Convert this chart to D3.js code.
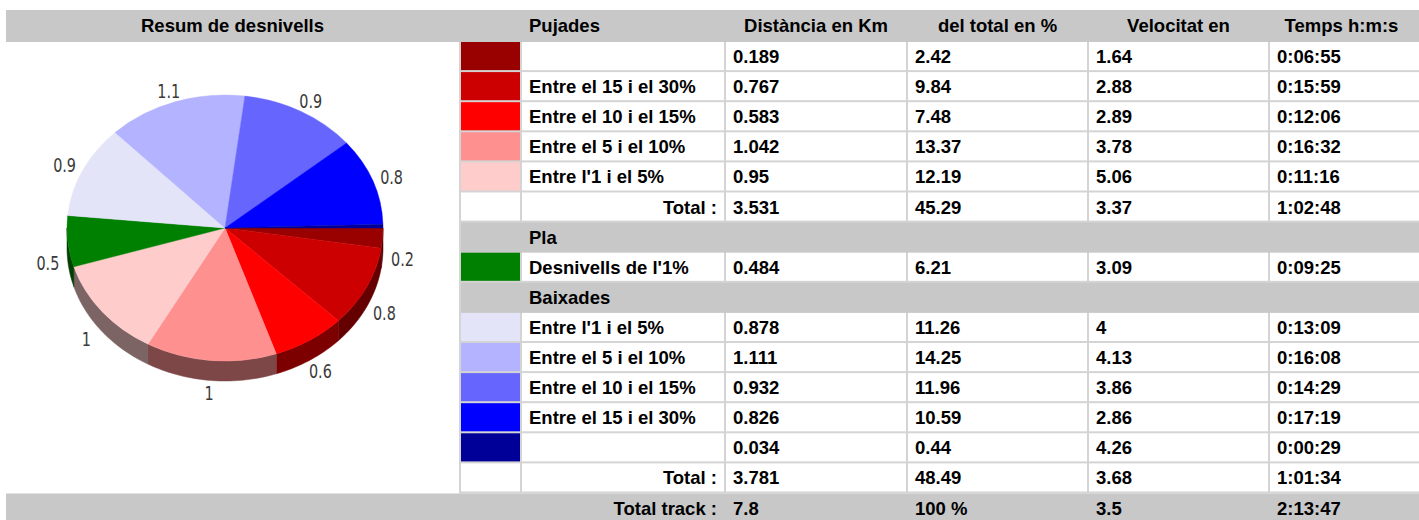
<!DOCTYPE html>
<html>
<head>
<meta charset="utf-8">
<script src="https://cdn.jsdelivr.net/npm/d3@7"></script>
<style>
  body { margin: 0; background: #fff; }
  svg { display: block; }
</style>
</head>
<body>
<div id="chart"></div>
<script>
// Pujades
var upLabels = ["", "Entre el 15 i el 30%", "Entre el 10 i el 15%", "Entre el 5 i el 10%", "Entre l'1 i el 5%"];
var upColors = ["#990000", "#cc0000", "#ff0000", "#ff9090", "#ffcccc"];
var upDist = [0.189, 0.767, 0.583, 1.042, 0.95];
var upPct = [2.42, 9.84, 7.48, 13.37, 12.19];
var upSpeed = [1.64, 2.88, 2.89, 3.78, 5.06];
var upTime = ["0:06:55", "0:15:59", "0:12:06", "0:16:32", "0:11:16"];
var upTotal = [3.531, 45.29, 3.37, "1:02:48"];

// Pla
var flatLabels = ["Desnivells de l'1%"];
var flatColors = ["#008000"];
var flatDist = [0.484];
var flatPct = [6.21];
var flatSpeed = [3.09];
var flatTime = ["0:09:25"];

// Baixades
var downLabels = ["Entre l'1 i el 5%", "Entre el 5 i el 10%", "Entre el 10 i el 15%", "Entre el 15 i el 30%", ""];
var downColors = ["#e4e4f8", "#b3b3ff", "#6666ff", "#0000ff", "#000099"];
var downDist = [0.878, 1.111, 0.932, 0.826, 0.034];
var downPct = [11.26, 14.25, 11.96, 10.59, 0.44];
var downSpeed = [4, 4.13, 3.86, 2.86, 4.26];
var downTime = ["0:13:09", "0:16:08", "0:14:29", "0:17:19", "0:00:29"];
var downTotal = [3.781, 48.49, 3.68, "1:01:34"];

var trackTotal = [7.8, "100 %", 3.5, "2:13:47"];
var headers = ["Pujades", "Distància en Km", "del total en %", "Velocitat en", "Temps h:m:s"];

var width = 1419, height = 520;
var gray = "#c8c8c8", gap = "#d4d4d4";
var cols = [[461, 520], [522, 724], [726, 906], [908, 1087], [1089, 1268], [1270, 1413]];

var svg = d3.select("#chart").append("svg")
    .attr("width", width)
    .attr("height", height)
    .style("font-family", "'Liberation Sans', Arial, sans-serif")
    .style("font-weight", "bold")
    .style("font-size", "18.5px");

// build table rows
var rows = [];
function addGroup(labels, colors, dist, pct, speed, time) {
  labels.forEach(function(l, i) {
    rows.push({kind: "row", label: l, color: colors[i], cells: [dist[i], pct[i], speed[i], time[i]]});
  });
}
addGroup(upLabels, upColors, upDist, upPct, upSpeed, upTime);
rows.push({kind: "total", label: "Total :", cells: upTotal});
rows.push({kind: "section", label: "Pla"});
addGroup(flatLabels, flatColors, flatDist, flatPct, flatSpeed, flatTime);
rows.push({kind: "section", label: "Baixades"});
addGroup(downLabels, downColors, downDist, downPct, downSpeed, downTime);
rows.push({kind: "total", label: "Total :", cells: downTotal});
rows.push({kind: "grand", label: "Total track :", cells: trackTotal});

var y = d3.scaleBand()
    .domain(d3.range(rows.length))
    .range([42, 42 + rows.length * 30.1]);

// header
svg.append("rect").attr("x", 6).attr("y", 10).attr("width", width - 6).attr("height", 32).attr("fill", gray);
svg.append("text").attr("x", (6 + 459) / 2).attr("y", 32).attr("text-anchor", "middle").text("Resum de desnivells");
svg.append("text").attr("x", cols[1][0] + 7).attr("y", 32).text(headers[0]);
headers.slice(1).forEach(function(h, i) {
  var c = cols[i + 2];
  svg.append("text").attr("x", (c[0] + c[1]) / 2).attr("y", 32).attr("text-anchor", "middle").text(h);
});

// table body background (cell spacing)
svg.append("rect").attr("x", 459).attr("y", 42)
    .attr("width", width - 459).attr("height", y(rows.length - 1) - 42)
    .attr("fill", gap);

var row = svg.selectAll("g.row")
    .data(rows)
    .enter().append("g")
    .attr("class", "row")
    .attr("transform", function(d, i) { return "translate(0," + y(i) + ")"; });

row.each(function(d) {
  var g = d3.select(this);
  var h = y.bandwidth();
  if (d.kind === "section") {
    g.append("rect").attr("x", 461).attr("y", 0).attr("width", width - 461).attr("height", h).attr("fill", gray);
    g.append("text").attr("x", cols[1][0] + 7).attr("y", 21).text(d.label);
    return;
  }
  if (d.kind === "grand") {
    g.append("rect").attr("x", 6).attr("y", 0).attr("width", width - 6).attr("height", h + 5).attr("fill", gray);
  } else {
    cols.forEach(function(c, j) {
      g.append("rect")
          .attr("x", c[0]).attr("y", 0)
          .attr("width", (j === cols.length - 1 ? width : c[1]) - c[0])
          .attr("height", h - 2)
          .attr("fill", j === 0 && d.kind === "row" ? d.color : "#fff");
    });
  }
  if (d.kind === "row") {
    g.append("text").attr("x", cols[1][0] + 7).attr("y", 21).text(d.label);
  } else {
    g.append("text").attr("x", cols[1][1] - 7).attr("y", 21).attr("text-anchor", "end").text(d.label);
  }
  d.cells.forEach(function(v, j) {
    g.append("text").attr("x", cols[j + 2][0] + 7).attr("y", 21).text(String(v));
  });
});

// 3D pie
var pieValues = upDist.concat(flatDist, downDist);
var pieColors = upColors.concat(flatColors, downColors);
var cx = 225, cy = 228, rx = 158, ry = 133, depth = 20;

var pie = d3.pie().sort(null)
    .startAngle(Math.PI / 2)
    .endAngle(Math.PI / 2 + 2 * Math.PI);
var arcs = pie(pieValues);

var pieG = svg.append("g").attr("transform", "translate(" + cx + "," + cy + ")");

// side walls for the front half
var line = d3.line();
arcs.forEach(function(a, i) {
  var s = Math.max(a.startAngle, Math.PI / 2), e = Math.min(a.endAngle, 3 * Math.PI / 2);
  if (s >= e) return;
  var n = Math.max(2, Math.ceil((e - s) * 40));
  var top = d3.range(n + 1).map(function(k) {
    var t = s + (e - s) * k / n;
    return [rx * Math.sin(t), -ry * Math.cos(t)];
  });
  var bottom = top.slice().reverse().map(function(p) { return [p[0], p[1] + depth]; });
  pieG.append("path")
      .attr("d", line(top.concat(bottom)) + "Z")
      .attr("fill", d3.rgb(pieColors[i]).darker(2))
      .attr("stroke", d3.rgb(pieColors[i]).darker(2))
      .attr("stroke-width", 0.5);
});

// top faces
var arc = d3.arc().innerRadius(0).outerRadius(rx);
pieG.append("g")
    .attr("transform", "scale(1," + (ry / rx) + ")")
    .selectAll("path")
    .data(arcs)
    .enter().append("path")
    .attr("d", arc)
    .attr("fill", function(d, i) { return pieColors[i]; })
    .attr("stroke", function(d, i) { return pieColors[i]; })
    .attr("stroke-width", 0.5);

// labels
pieG.selectAll("text.lbl")
    .data(arcs.filter(function(d) { return Math.round(d.value * 10) > 0; }))
    .enter().append("text")
    .attr("class", "lbl")
    .attr("transform", function(d) {
      var m = (d.startAngle + d.endAngle) / 2;
      var lx = (rx + 20) * Math.sin(m);
      var ly = -(ry + 12) * Math.cos(m) + (-Math.cos(m) > 0 ? depth : 0);
      return "translate(" + lx + "," + ly + ") scale(0.72,1)";
    })
    .attr("text-anchor", "middle")
    .attr("dy", "0.36em")
    .style("font-family", "'DejaVu Sans', sans-serif")
    .style("font-weight", "normal")
    .style("font-size", "20px")
    .attr("fill", "#3a3a3a")
    .text(function(d) { return String(Math.round(d.value * 10) / 10); });
</script>
</body>
</html>
